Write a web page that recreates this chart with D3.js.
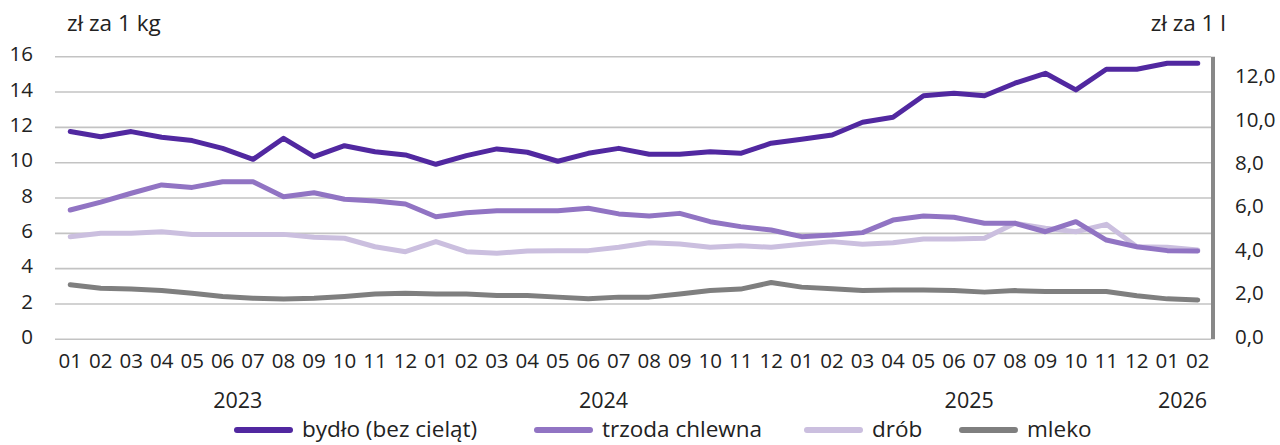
<!DOCTYPE html>
<html lang="pl">
<head>
<meta charset="UTF-8">
<title>Ceny skupu</title>
<style>
  body { margin: 0; background: #fff; }
  text { font-family: "Open Sans", "Noto Sans", sans-serif; fill: #222; }
</style>
</head>
<body>
<script src="https://cdn.jsdelivr.net/npm/d3@7"></script>
<script>
const width = 1280, height = 445

// dane
const months = ["01","02","03","04","05","06","07","08","09","10","11","12",
  "01","02","03","04","05","06","07","08","09","10","11","12",
  "01","02","03","04","05","06","07","08","09","10","11","12",
  "01","02"]
const years = [
  {label: "2023", from: 0, to: 11},
  {label: "2024", from: 12, to: 23},
  {label: "2025", from: 24, to: 35},
  {label: "2026", from: 36, to: 37}
]
const bydlo = [11.76,11.47,11.76,11.44,11.25,10.81,10.19,11.38,10.34,10.96,10.62,10.44,
  9.91,10.40,10.78,10.59,10.08,10.53,10.81,10.48,10.48,10.62,10.53,11.10,
  11.33,11.57,12.29,12.57,13.79,13.93,13.79,14.50,15.06,14.12,15.29,15.29,
  15.63,15.63]
const trzoda = [7.32,7.77,8.27,8.74,8.60,8.92,8.92,8.07,8.30,7.93,7.83,7.66,
  6.94,7.17,7.28,7.28,7.28,7.42,7.10,6.98,7.13,6.66,6.38,6.19,
  5.81,5.90,6.04,6.75,6.98,6.91,6.57,6.57,6.09,6.66,5.62,5.24,
  5.02,5.00]
const drob = [5.81,6.00,6.00,6.09,5.94,5.94,5.94,5.94,5.78,5.72,5.24,4.96,
  5.53,4.96,4.87,5.00,5.02,5.02,5.21,5.47,5.40,5.21,5.30,5.21,
  5.38,5.53,5.38,5.47,5.68,5.68,5.72,6.57,6.29,6.09,6.51,5.24,
  5.21,5.06]
const mleko = [2.51,2.35,2.31,2.24,2.12,1.97,1.89,1.85,1.89,1.97,2.08,2.12,
  2.08,2.08,2.01,2.01,1.94,1.86,1.94,1.94,2.08,2.24,2.31,2.61,
  2.40,2.32,2.24,2.27,2.27,2.24,2.17,2.24,2.20,2.20,2.20,2.00,
  1.86,1.81]
const leftTicks = [0,2,4,6,8,10,12,14,16]
const rightTicks = [0,2,4,6,8,10,12]

const series = [
  {name: "bydło (bez cieląt)", values: bydlo, axis: "left", color: "#5128a0"},
  {name: "trzoda chlewna", values: trzoda, axis: "left", color: "#9174c3"},
  {name: "drób", values: drob, axis: "left", color: "#cbbfdf"},
  {name: "mleko", values: mleko, axis: "right", color: "#7f7f7f"}
]

const plotL = 55, plotR = 1213, plotT = 56.7, plotB = 339.3
const tickFont = 20.5, labelFont = 22.5

const svg = d3.select("body").append("svg")
  .attr("width", width)
  .attr("height", height)

const x = d3.scaleBand()
  .domain(d3.range(months.length))
  .range([plotL, plotR])
const yL = d3.scaleLinear().domain([0, 16]).range([plotB, plotT])
const yR = d3.scaleLinear().domain([0, 13]).range([plotB, plotT])
const cx = i => x(i) + x.bandwidth() / 2

// siatka
svg.append("g")
  .selectAll("line")
  .data(leftTicks)
  .enter().append("line")
  .attr("x1", plotL).attr("x2", plotR - 2)
  .attr("y1", d => yL(d)).attr("y2", d => yL(d))
  .attr("stroke", "#c3c3c3")
  .attr("stroke-width", 1.6)

// os lewa
const axL = svg.append("g")
  .attr("transform", "translate(" + (plotL - 22) + ",0)")
  .call(d3.axisLeft(yL).tickValues(leftTicks).tickSize(0).tickPadding(0))
axL.select(".domain").remove()
axL.selectAll("text").attr("font-size", tickFont).attr("dy", "0.2em")

// os prawa
const axR = svg.append("g")
  .attr("transform", "translate(" + plotR + ",0)")
  .call(d3.axisRight(yR).tickValues(rightTicks).tickSize(0).tickPadding(22)
    .tickFormat(d => d3.format(".1f")(d).replace(".", ",")))
axR.select(".domain").remove()
axR.selectAll("text").attr("font-size", tickFont).attr("dy", "0.2em")
svg.append("line")
  .attr("x1", plotR).attr("x2", plotR)
  .attr("y1", plotT).attr("y2", plotB)
  .attr("stroke", "#888")
  .attr("stroke-width", 4)

// os x
const axX = svg.append("g")
  .attr("transform", "translate(0," + plotB + ")")
  .call(d3.axisBottom(x).tickFormat(i => months[i]).tickSize(0).tickPadding(14))
axX.select(".domain").remove()
axX.selectAll("text").attr("font-size", tickFont).attr("dy", "0.71em")

svg.append("g")
  .selectAll("text")
  .data(years)
  .enter().append("text")
  .attr("x", d => (x(d.from) + x(d.to) + x.bandwidth()) / 2)
  .attr("y", 408)
  .attr("text-anchor", "middle")
  .attr("font-size", 21.5)
  .text(d => d.label)

// jednostki
svg.append("text").attr("x", 67).attr("y", 31).attr("font-size", labelFont).text("zł za 1 kg")
svg.append("text").attr("x", 1226).attr("y", 31).attr("text-anchor", "end")
  .attr("font-size", labelFont).text("zł za 1 l")

// linie
series.slice().reverse().forEach(s => {
  const y = s.axis === "left" ? yL : yR
  const line = d3.line().x((d, i) => cx(i)).y(d => y(d))
  svg.append("path")
    .datum(s.values)
    .attr("d", line)
    .attr("fill", "none")
    .attr("stroke", s.color)
    .attr("stroke-width", 5)
    .attr("stroke-linejoin", "round")
    .attr("stroke-linecap", "round")
})

// legenda
const legendX = [237, 537, 807, 962]
const lg = svg.append("g")
  .selectAll("g")
  .data(series)
  .enter().append("g")
  .attr("transform", (d, i) => "translate(" + legendX[i] + ",430)")
lg.append("line")
  .attr("x1", 0).attr("x2", 53)
  .attr("stroke", d => d.color)
  .attr("stroke-width", 6)
  .attr("stroke-linecap", "round")
lg.append("text")
  .attr("x", 65).attr("y", 7)
  .attr("font-size", labelFont)
  .text(d => d.name)
</script>
</body>
</html>
